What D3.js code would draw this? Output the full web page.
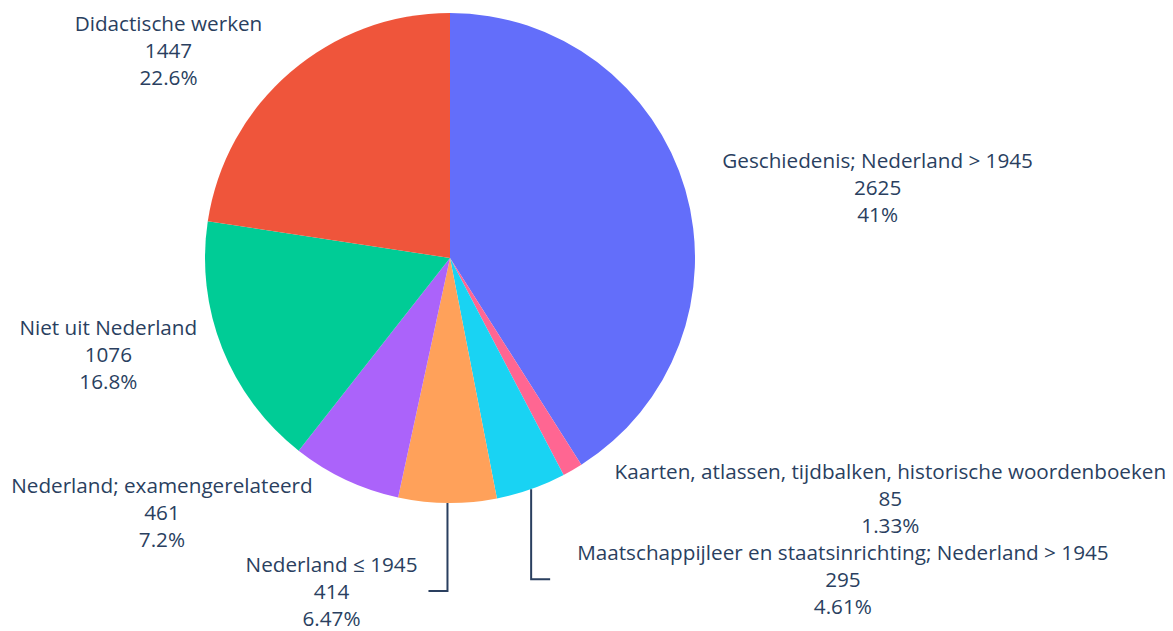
<!DOCTYPE html>
<html>
<head>
<meta charset="utf-8">
<script src="https://cdn.jsdelivr.net/npm/d3@7"></script>
<style>
  body { margin: 0; background: #fff; }
  svg text { font-family: "Open Sans", "Noto Sans", sans-serif; }
</style>
</head>
<body>
<div id="chart"></div>
<script>
// Slice data, clockwise from the top
var categories = [
  "Geschiedenis; Nederland > 1945",
  "Kaarten, atlassen, tijdbalken, historische woordenboeken",
  "Maatschappijleer en staatsinrichting; Nederland > 1945",
  "Nederland ≤ 1945",
  "Nederland; examengerelateerd",
  "Niet uit Nederland",
  "Didactische werken"
];
var counts = [2625, 85, 295, 414, 461, 1076, 1447];
var percentLabels = ["41%", "1.33%", "4.61%", "6.47%", "7.2%", "16.8%", "22.6%"];
var sliceColors = ["#636efa", "#FF6692", "#19d3f3", "#FFA15A", "#ab63fa", "#00cc96", "#EF553B"];

// Label placement relative to the slice's outer edge point
// gap: horizontal distance from the edge point to the text block; dy: shift of the middle line
var labelLayout = [
  { gap: 37, dy: 5 },
  { gap: 42, dy: 36 },
  { leader: true, drop: 90, arm: 19, gap: 46, dy: 8 },
  { leader: true, drop: 88, arm: 19, gap: 30, dy: 8 },
  { gap: 33, dy: 40 },
  { gap: 25, dy: 14 },
  { gap: 28, dy: -14 }
];

var width = 1173, height = 631;
var cx = 450, cy = 258, radius = 245;
var fontSize = 20.7, lineStep = 27;
var textColor = "#2a3f5f";

var svg = d3.select("#chart").append("svg")
  .attr("width", width)
  .attr("height", height);

var g = svg.append("g").attr("transform", `translate(${cx}, ${cy})`);

var pie = d3.pie().sort(null).value(d => d.value);
var arc = d3.arc().innerRadius(0).outerRadius(radius);

var data = categories.map((c, i) => ({ name: c, value: counts[i], pct: percentLabels[i], color: sliceColors[i], layout: labelLayout[i] }));
var arcs = pie(data);

g.selectAll("path.slice")
  .data(arcs)
  .enter().append("path")
  .attr("class", "slice")
  .attr("d", arc)
  .attr("fill", d => d.data.color);

// Labels
arcs.forEach(function (d) {
  var mid = (d.startAngle + d.endAngle) / 2;
  var ex = radius * Math.sin(mid), ey = -radius * Math.cos(mid);
  var side = ex >= 0 ? 1 : -1;
  var L = d.data.layout;

  var label = g.append("text")
    .attr("fill", textColor)
    .attr("font-size", fontSize)
    .attr("text-anchor", "middle");

  var lines = [d.data.name, String(d.data.value), d.data.pct];
  var tspans = lines.map(t => label.append("tspan").text(t));
  var w = d3.max(tspans, t => t.node().getComputedTextLength());

  var midY;
  if (L.leader) {
    var lineY = ey + L.drop;
    var armX = ex + side * L.arm;
    g.append("path")
      .attr("d", `M${ex},${ey}V${lineY}H${armX}`)
      .attr("fill", "none")
      .attr("stroke", textColor)
      .attr("stroke-width", 2);
    midY = lineY + L.dy;
  } else {
    midY = ey + L.dy;
  }
  var blockX = ex + side * (L.gap + w / 2);

  tspans.forEach(function (t, i) {
    t.attr("x", blockX).attr("y", midY + (i - 1) * lineStep);
  });
});
</script>
</body>
</html>
